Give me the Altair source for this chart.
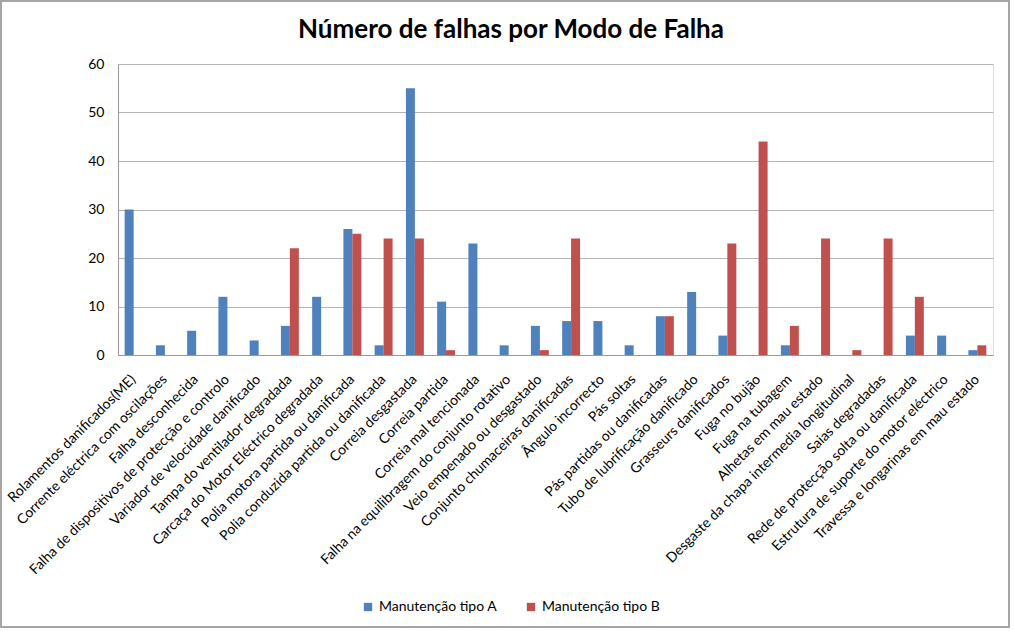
import altair as alt
import pandas as pd

categories = [
    "Rolamentos danificados(ME)",
    "Corrente eléctrica com oscilações",
    "Falha desconhecida",
    "Falha de dispositivos de protecção e controlo",
    "Variador de velocidade danificado",
    "Tampa do ventilador degradada",
    "Carcaça do Motor Eléctrico degradada",
    "Polia motora partida ou danificada",
    "Polia conduzida partida ou danificada",
    "Correia desgastada",
    "Correia  partida",
    "Correia mal tencionada",
    "Falha na equilibragem do conjunto rotativo",
    "Veio empenado ou desgastado",
    "Conjunto chumaceiras danificadas",
    "Ângulo incorrecto",
    "Pás soltas",
    "Pás partidas ou danificadas",
    "Tubo de lubrificação danificado",
    "Grasseurs danificados",
    "Fuga no bujão",
    "Fuga na tubagem",
    "Alhetas em mau estado",
    "Desgaste da chapa intermedia longitudinal",
    "Saias degradadas",
    "Rede de protecção solta ou danificada",
    "Estrutura de suporte do motor eléctrico",
    "Travessa e longarinas em mau estado",
]
tipo_a = [30, 2, 5, 12, 3, 6, 12, 26, 2, 55, 11, 23, 2, 6, 7, 7, 2, 8, 13, 4, 0, 2, 0, 0, 0, 4, 4, 1]
tipo_b = [0, 0, 0, 0, 0, 22, 0, 25, 24, 24, 1, 0, 0, 1, 24, 0, 0, 8, 0, 23, 44, 6, 24, 1, 24, 12, 0, 2]
series = ["Manutenção tipo A", "Manutenção tipo B"]
colors = ["#4F81BD", "#C0504D"]
title_text = ["Número de falhas por Modo de Falha"]

rows = []
for c, a, b in zip(categories, tipo_a, tipo_b):
    rows.append({"cat": c, "serie": series[0], "v": a})
    rows.append({"cat": c, "serie": series[1], "v": b})
df = pd.DataFrame(rows)

W, H = 875, 291
FONT = "Lato"

bars = alt.Chart(df).mark_bar(size=9).encode(
    x=alt.X("cat:N", sort=categories, title=None,
            scale=alt.Scale(paddingInner=0, paddingOuter=0),
            axis=alt.Axis(labelAngle=-45, labelAlign="right", labelBaseline="middle",
                          labelFont=FONT, labelFontSize=14, labelColor="#000000",
                          labelPadding=22, ticks=False, domainColor="#999999",
                          labelLimit=400, labelOverlap=False)),
    xOffset=alt.XOffset("serie:N", sort=series,
                        scale=alt.Scale(paddingInner=0, paddingOuter=0.75)),
    y=alt.Y("v:Q", title=None,
            scale=alt.Scale(domain=[0, 60], nice=False),
            axis=alt.Axis(values=[0, 10, 20, 30, 40, 50, 60], grid=True, gridColor="#b3b3b3",
                          ticks=False, domainColor="#999999", labelFont=FONT,
                          labelFontSize=14, labelColor="#000000", labelPadding=14)),
    color=alt.Color("serie:N", sort=series,
                    scale=alt.Scale(domain=series, range=colors),
                    legend=alt.Legend(title=None, orient="none", direction="horizontal",
                                      legendX=243, legendY=536, symbolType="square",
                                      symbolSize=70, symbolStrokeWidth=0,
                                      labelFont=FONT, labelFontSize=14, columnPadding=26,
                                      labelColor="#000000")),
)

title_df = pd.DataFrame({"t": title_text})
title = alt.Chart(title_df).mark_text(font=FONT, fontSize=26, fontWeight="bold",
                                      color="#000000", align="center", baseline="middle").encode(
    text="t:N", x=alt.value(393), y=alt.value(-34)
)

frame_df = pd.DataFrame({"k": [0]})
frame = alt.Chart(frame_df).mark_rect(fill=None, stroke="#a6a6a6", strokeWidth=2).encode(
    x=alt.value(-117), x2=alt.value(891), y=alt.value(-63), y2=alt.value(563)
)

chart = alt.layer(bars, title, frame).properties(
    width=W, height=H,
    padding={"left": 118, "top": 64, "right": 21, "bottom": 276},
    autosize=alt.AutoSizeParams(type="none"),
).configure_view(stroke=None).configure(background="#ffffff")

chart.save("out.html", embed_options={"renderer": "svg", "actions": False})
